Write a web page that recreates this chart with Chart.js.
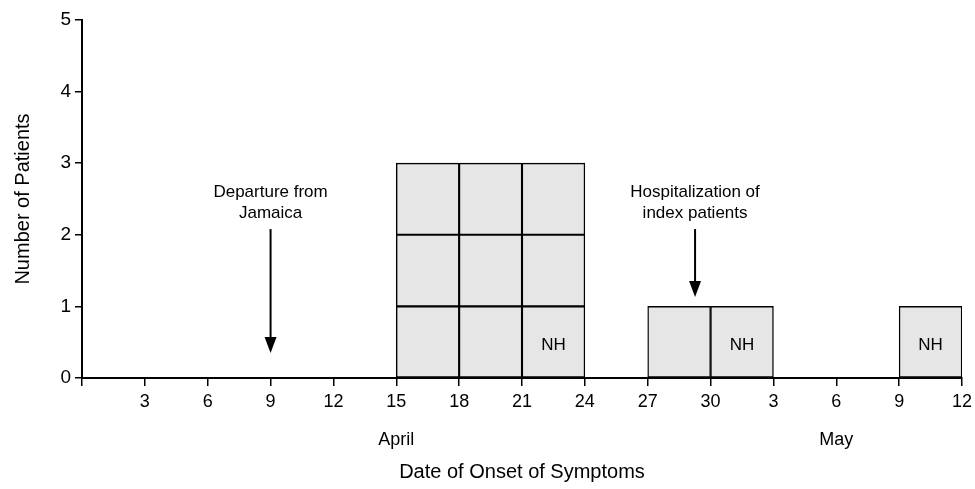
<!DOCTYPE html>
<html>
<head>
<meta charset="utf-8">
<script src="https://cdn.jsdelivr.net/npm/chart.js@4"></script>
<style>
  html, body { margin: 0; padding: 0; background: #fff; }
  #wrap { width: 975px; height: 489px; }
</style>
</head>
<body>
<div id="wrap"><canvas id="chart"></canvas></div>
<script>
// Epidemic curve — 3-day bins, April 0 .. May 12 (day 42)

const binCenters = [16.5, 19.5, 22.5, 28.5, 31.5, 40.5];   // day of April
const patientCounts = [3, 3, 3, 1, 1, 1];
const nhFlags = [false, false, true, false, true, true];  // NH patient in bottom box
const months = [{ label: "April", at: 15 }, { label: "May", at: 36 }];
const arrows = [
  { x: 9, top: 2.08, tip: 0.35, text: ["Departure from", "Jamaica"] },
  { x: 29.26, top: 2.08, tip: 1.13, text: ["Hospitalization of", "index patients"] },
];

const FONT = "'Liberation Sans', Arial, sans-serif";

// one dataset per stack level, each box = 1 patient
const maxLevel = Math.max(...patientCounts);
const datasets = [];
for (let k = 1; k <= maxLevel; k++) {
  datasets.push({
    data: binCenters.map((x, i) => ({ x, y: patientCounts[i] >= k ? 1 : null })),
    backgroundColor: "#e6e6e6",
    borderColor: "#000",
    borderWidth: 1.4,
    borderSkipped: false,
    barPercentage: 1,
    categoryPercentage: 1,
  });
}

const overlay = {
  id: "overlay",
  afterDatasetsDraw(chart) {
    const { ctx, scales: { x, y } } = chart;
    ctx.save();
    ctx.fillStyle = "#000";
    ctx.strokeStyle = "#000";

    // NH labels
    ctx.font = `17px ${FONT}`;
    ctx.textAlign = "center";
    ctx.textBaseline = "middle";
    binCenters.forEach((c, i) => {
      if (nhFlags[i]) ctx.fillText("NH", x.getPixelForValue(c), y.getPixelForValue(0.46));
    });

    // arrows + captions
    ctx.font = `17px ${FONT}`;
    for (const a of arrows) {
      const px = x.getPixelForValue(a.x);
      const top = y.getPixelForValue(a.top);
      const tip = y.getPixelForValue(a.tip);
      ctx.lineWidth = 2;
      ctx.beginPath();
      ctx.moveTo(px, top);
      ctx.lineTo(px, tip - 12);
      ctx.stroke();
      ctx.beginPath();
      ctx.moveTo(px - 6, tip - 16);
      ctx.lineTo(px + 6, tip - 16);
      ctx.lineTo(px, tip);
      ctx.closePath();
      ctx.fill();
      a.text.forEach((t, j) => {
        ctx.fillText(t, px, top - 37 + j * 21);
      });
    }

    // month labels under the ticks
    ctx.font = `18px ${FONT}`;
    for (const m of months) {
      ctx.fillText(m.label, x.getPixelForValue(m.at), 440);
    }
    ctx.restore();
  },
};

new Chart(document.getElementById("chart"), {
  type: "bar",
  data: { datasets },
  plugins: [overlay],
  options: {
    responsive: true,
    maintainAspectRatio: false,
    animation: false,
    layout: { padding: { top: 20, right: 0, left: 0, bottom: 0 } },
    plugins: { legend: { display: false }, tooltip: { enabled: false } },
    scales: {
      x: {
        type: "linear",
        stacked: true,
        offset: false,
        min: 0,
        max: 42,
        afterFit: (s) => { s.height = 111; s.paddingRight = 13; },
        grid: { offset: false, drawOnChartArea: false, color: "#000", lineWidth: 1.5, tickLength: 8 },
        border: { color: "#000", width: 2 },
        ticks: {
          stepSize: 3,
          color: "#000",
          padding: 5,
          maxRotation: 0,
          autoSkip: false,
          font: { family: FONT, size: 18 },
          callback: (v) => (v === 0 ? "" : v > 30 ? v - 30 : v),
        },
        title: {
          display: true,
          text: "Date of Onset of Symptoms",
          color: "#000",
          font: { family: FONT, size: 20 },
          padding: { bottom: 5 },
        },
      },
      y: {
        stacked: true,
        min: 0,
        max: 5,
        afterFit: (s) => { s.width = 82; },
        grid: { drawOnChartArea: false, color: "#000", lineWidth: 1.5, tickLength: 7 },
        border: { color: "#000", width: 2 },
        ticks: {
          stepSize: 1,
          color: "#000",
          padding: 4,
          font: { family: FONT, size: 19 },
        },
        title: {
          display: true,
          text: "Number of Patients",
          color: "#000",
          font: { family: FONT, size: 20 },
          padding: { top: 11 },
        },
      },
    },
  },
});
</script>
</body>
</html>
